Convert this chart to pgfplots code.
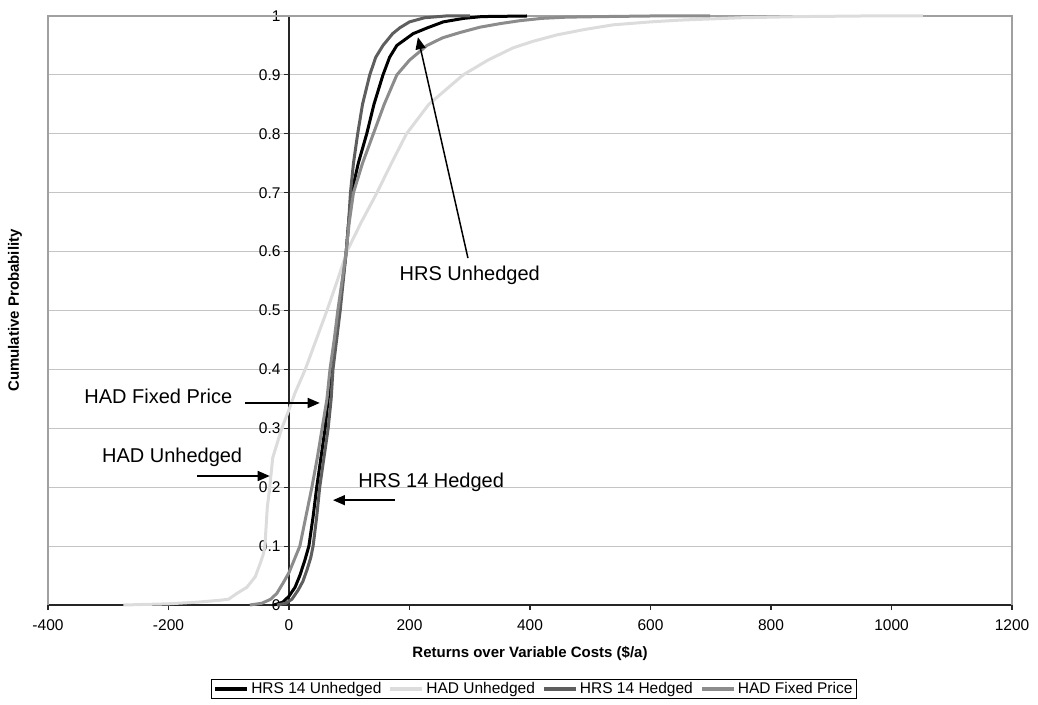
\documentclass[border=0pt]{standalone}
\usepackage{fontspec}
\setmainfont{Liberation Sans}
\usepackage{pgfplots}
\pgfplotsset{compat=1.18}
\usetikzlibrary{arrows.meta}
\definecolor{hrsu}{HTML}{000000}
\definecolor{hadu}{HTML}{DCDCDC}
\definecolor{hrsh}{HTML}{5E5E5E}
\definecolor{hadf}{HTML}{8C8C8C}
\definecolor{gridc}{HTML}{C4C4C4}
\definecolor{framec}{HTML}{A0A0A0}
\begin{document}
\begin{tikzpicture}
\begin{axis}[
    scale only axis,
    width=964pt, height=589pt,
    xmin=-400, xmax=1200, ymin=0, ymax=1,
    clip=false,
    axis lines=middle,
    axis line style={-, line width=1.2pt, draw=black!85},
    hide obscured x ticks=false, hide obscured y ticks=false,
    xtick={-400,-200,0,200,400,600,800,1000,1200},
    ytick={0,0.1,0.2,0.3,0.4,0.5,0.6,0.7,0.8,0.9,1},
    yticklabels={0,0.1,0.2,0.3,0.4,0.5,0.6,0.7,0.8,0.9,1},
    tick align=outside, major tick length=5pt,
    tick style={line width=1.2pt, black!85},
    ymajorgrids, grid style={gridc, line width=1.2pt},
    ticklabel style={font=\fontsize{15.5pt}{18pt}\selectfont},
    x tick label style={yshift=-6pt},
    /pgf/number format/assume math mode=true,
    /pgf/number format/1000 sep={},
    xlabel={\bfseries Returns over Variable Costs (\$/a)},
    ylabel={\bfseries Cumulative Probability},
    xlabel style={at={(axis description cs:0.5,0)}, anchor=center, yshift=-48pt,
        font=\fontsize{15pt}{18pt}\selectfont},
    ylabel style={at={(axis description cs:-0.0342,0.5)}, anchor=center, rotate=90,
        font=\fontsize{15pt}{18pt}\selectfont},
    legend style={at={(axis description cs:0.504,0)}, anchor=north, yshift=-74pt,
        draw=black, line width=1pt, font=\fontsize{15.5pt}{17pt}\selectfont,
        inner xsep=2pt, inner ysep=1pt,
        /tikz/every even column/.append style={column sep=5pt}},
    legend columns=4,
    legend cell align=left,
    legend image code/.code={\draw[#1, line width=4pt] (0pt,0pt) -- (32pt,0pt);},
]
% plot area border (Excel style)
\draw[framec, line width=1.2pt] (axis cs:-400,0) -- (axis cs:-400,1) -- (axis cs:1200,1) -- (axis cs:1200,0);

% HRS 14 Unhedged
\addplot[hrsu, line width=3pt] coordinates {
(-25,0) (-10,0.005) (0,0.015) (10,0.03) (18,0.05) (26,0.075) (33,0.1) (40,0.15)
(46,0.2) (53,0.25) (60,0.3) (65,0.35) (70,0.4) (77,0.45) (83,0.5) (89,0.55)
(95,0.6) (99,0.65) (104,0.7) (115,0.75) (129,0.8) (141,0.85) (156,0.9) (167,0.93)
(179,0.95) (206,0.97) (230,0.98) (256,0.99) (290,0.996) (320,0.999) (395,1)};
\addlegendentry{HRS 14 Unhedged}

% HAD Unhedged
\addplot[hadu, line width=3pt] coordinates {
(-275,0) (-200,0.002) (-150,0.005) (-115,0.008) (-100,0.01) (-86,0.02) (-70,0.03)
(-56,0.048) (-48,0.07) (-43,0.085) (-40,0.1) (-36,0.166) (-32,0.2) (-27,0.25)
(-12,0.3) (-2,0.326) (10,0.36) (27,0.4) (45,0.45) (63,0.5) (80,0.55) (96,0.6)
(120,0.65) (146,0.7) (170,0.75) (195,0.8) (232,0.85) (289,0.9) (330,0.925)
(372,0.946) (405,0.957) (445,0.968) (490,0.977) (538,0.985) (600,0.99) (649,0.993)
(750,0.997) (850,0.999) (950,1) (1052,1)};
\addlegendentry{HAD Unhedged}

% HRS 14 Hedged
\addplot[hrsh, line width=3pt] coordinates {
(-20,0) (-5,0.003) (5,0.01) (15,0.025) (23,0.04) (30,0.06) (36,0.08) (40,0.1)
(46,0.15) (51,0.2) (58,0.25) (65,0.3) (70,0.35) (73,0.4) (79,0.45) (85,0.5)
(90,0.55) (95,0.6) (99,0.65) (102,0.7) (107,0.75) (114,0.8) (122,0.85) (134,0.9)
(144,0.93) (156,0.95) (172,0.97) (184,0.98) (200,0.99) (225,0.997) (260,1) (300,1)};
\addlegendentry{HRS 14 Hedged}

% HAD Fixed Price
\addplot[hadf, line width=3pt] coordinates {
(-65,0) (-45,0.003) (-30,0.01) (-20,0.02) (-10,0.037) (0,0.055) (10,0.08) (18,0.1)
(28,0.15) (38,0.2) (47,0.25) (55,0.3) (63,0.35) (68,0.4) (75,0.45) (81,0.5)
(88,0.55) (95,0.6) (100,0.65) (107,0.7) (122,0.75) (140,0.8) (158,0.85) (179,0.9)
(200,0.925) (229,0.95) (255,0.963) (284,0.972) (317,0.981) (350,0.987) (383,0.992)
(420,0.996) (460,0.998) (520,0.999) (600,1) (699,1)};
\addlegendentry{HAD Fixed Price}

% annotations
\node[font=\fontsize{20pt}{24pt}\selectfont] at (axis cs:300,0.560) {HRS Unhedged};
\node[font=\fontsize{20pt}{24pt}\selectfont] at (axis cs:-217,0.355) {HAD Fixed Price};
\node[font=\fontsize{20pt}{24pt}\selectfont] at (axis cs:-194,0.251) {HAD Unhedged};
\node[font=\fontsize{20pt}{24pt}\selectfont] at (axis cs:236,0.209) {HRS 14 Hedged};
\draw[-{Triangle[length=12pt,width=10pt]}, line width=1.5pt] (axis cs:297,0.589) -- (axis cs:214,0.964);
\draw[-{Triangle[length=12pt,width=10pt]}, line width=1.5pt] (axis cs:-73,0.343) -- (axis cs:51,0.343);
\draw[-{Triangle[length=12pt,width=10pt]}, line width=1.5pt] (axis cs:-153,0.219) -- (axis cs:-32,0.219);
\draw[-{Triangle[length=12pt,width=10pt]}, line width=1.5pt] (axis cs:176,0.178) -- (axis cs:73,0.178);

\coordinate (sw) at (rel axis cs:0,0);
\coordinate (ne) at (rel axis cs:1,1);
\end{axis}
\pgfresetboundingbox
\path (sw) +(-48pt,-99pt) (ne) +(26pt,16pt);
\end{tikzpicture}
\end{document}
